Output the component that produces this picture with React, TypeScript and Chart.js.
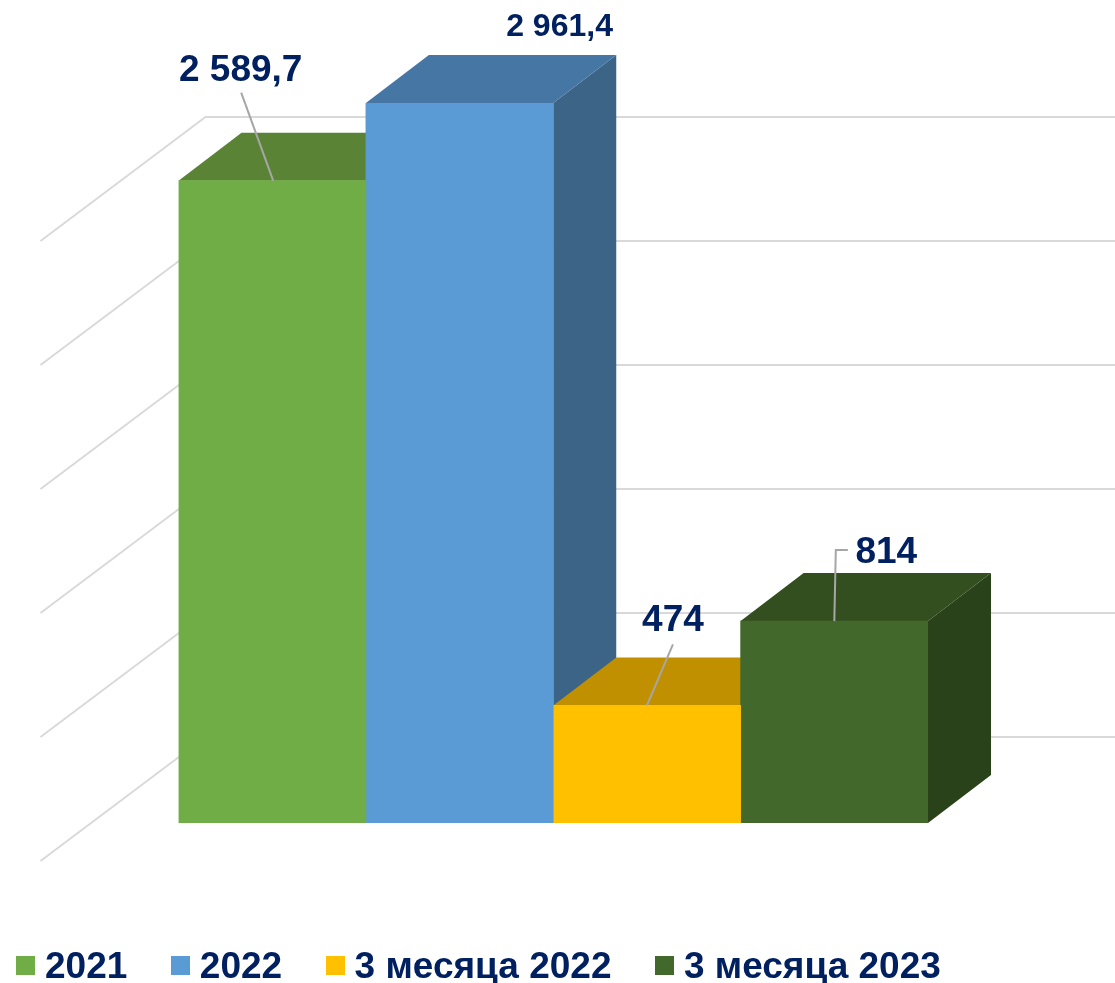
import React, { useEffect, useRef } from "react";
import { Chart, registerables } from "chart.js";

Chart.register(...registerables);

const categories = [""];
const seriesNames = ["2021", "2022", "3 месяца 2022", "3 месяца 2023"];
const value2021 = [2589.7];
const value2022 = [2961.4];
const value3m2022 = [474];
const value3m2023 = [814];
const valueLabels = ["2 589,7", "2 961,4", "474", "814"];
const gridTicks = [0, 500, 1000, 1500, 2000, 2500];
const axisMax = 2903;

const frontColors = ["#70AD47", "#5B9BD5", "#FFC000", "#43682B"];
const topColors = ["#5A8335", "#4676A3", "#C09000", "#334E1F"];
const sideColors = ["#4A6E2C", "#3B6487", "#A07A00", "#2A4219"];

const depthX = 63;
const depthY = -48;
const TEXT = "#002060";
const FONT = "Liberation Sans, Arial, sans-serif";

const labelPlacement = [
  { dx: -31.5, dy: -109.5, size: 37, leader: [[-31, -88], [1, 0]] },
  { dx: 100, dy: -75.5, size: 32, leader: [] },
  { dx: 26, dy: -85, size: 37, leader: [[26, -61], [0, 0]] },
  { dx: 52, dy: -68, size: 37, leader: [[13.5, -71], [1.5, -71], [0, 0]] },
];

const LEGEND_PADDING = 52;

function swatch(color: string) {
  const c = document.createElement("canvas");
  c.width = 19;
  c.height = 24;
  const g = c.getContext("2d")!;
  g.fillStyle = color;
  g.fillRect(0, 0, 19, 19);
  return c;
}

const wallPlugin = {
  id: "wall3d",
  beforeDatasetsDraw(chart: any) {
    const { ctx, chartArea, scales } = chart;
    const y = scales.y;
    ctx.save();
    ctx.strokeStyle = "#D9D9D9";
    ctx.lineWidth = 2;
    ctx.lineJoin = "round";
    gridTicks.forEach((v) => {
      const py = y.getPixelForValue(v);
      ctx.beginPath();
      ctx.moveTo(chartArea.left - 138, py + 38);
      ctx.lineTo(chartArea.left + 27, py - 86);
      ctx.lineTo(chart.width, py - 86);
      ctx.stroke();
    });
    ctx.restore();
  },
};

const bar3dPlugin = {
  id: "bar3d",
  beforeDatasetsDraw(chart: any) {
    const { ctx, chartArea } = chart;
    chart.data.datasets.forEach((_: any, i: number) => {
      const el = chart.getDatasetMeta(i).data[0];
      const { x, y, base, width } = el.getProps(["x", "y", "base", "width"], true);
      const l = x - width / 2;
      const r = x + width / 2;
      const t = Math.max(y, chartArea.top);
      ctx.save();
      ctx.fillStyle = sideColors[i];
      ctx.beginPath();
      ctx.moveTo(r, t);
      ctx.lineTo(r + depthX, t + depthY);
      ctx.lineTo(r + depthX, base + depthY);
      ctx.lineTo(r, base);
      ctx.closePath();
      ctx.fill();
      ctx.fillStyle = topColors[i];
      ctx.beginPath();
      ctx.moveTo(l, t);
      ctx.lineTo(l + depthX, t + depthY);
      ctx.lineTo(r + depthX, t + depthY);
      ctx.lineTo(r, t);
      ctx.closePath();
      ctx.fill();
      ctx.restore();
    });
  },
  afterDatasetsDraw(chart: any) {
    const { ctx, chartArea } = chart;
    chart.data.datasets.forEach((_: any, i: number) => {
      const el = chart.getDatasetMeta(i).data[0];
      const { x, y } = el.getProps(["x", "y"], true);
      const t = Math.max(y, chartArea.top);
      const p = labelPlacement[i];
      ctx.save();
      if (p.leader.length) {
        ctx.strokeStyle = "#A6A6A6";
        ctx.lineWidth = 2;
        ctx.beginPath();
        p.leader.forEach(([a, b], k) => {
          if (k === 0) ctx.moveTo(x + a, t + b);
          else ctx.lineTo(x + a, t + b);
        });
        ctx.stroke();
      }
      ctx.fillStyle = TEXT;
      ctx.font = `bold ${p.size}px ${FONT}`;
      ctx.textAlign = "center";
      ctx.textBaseline = "middle";
      ctx.fillText(valueLabels[i], x + p.dx, t + p.dy);
      ctx.restore();
    });
  },
};

const legendPlacePlugin = {
  id: "legendPlace",
  afterLayout(chart: any) {
    const lg = chart.legend;
    lg.left = 24.5 - LEGEND_PADDING;
    lg.right = 3000;
    lg.top = 968 - LEGEND_PADDING - 18.5;
  },
};

const hiddenAxis = {
  display: true,
  grid: { display: false },
  border: { display: false },
  ticks: { display: false },
};

export default function App() {
  const ref = useRef<HTMLCanvasElement>(null);

  useEffect(() => {
    const series = [value2021, value2022, value3m2022, value3m2023];
    const chart = new Chart(ref.current!, {
      type: "bar",
      data: {
        labels: categories,
        datasets: series.map((data, i) => ({
          label: seriesNames[i],
          data,
          backgroundColor: frontColors[i],
          borderWidth: 0,
          barPercentage: 1,
          categoryPercentage: 1,
        })),
      },
      options: {
        responsive: false,
        animation: false,
        events: [],
        layout: { padding: { top: 103, left: 0, right: 0, bottom: 0 } },
        scales: {
          x: {
            ...hiddenAxis,
            afterFit(axis: any) {
              axis.height = Math.max(0, 160 - (axis.chart.legend?.height ?? 0));
            },
          },
          y: {
            ...hiddenAxis,
            min: 0,
            max: axisMax,
            afterFit(axis: any) {
              axis.width = 178.5;
            },
          },
          yRight: {
            ...hiddenAxis,
            position: "right",
            afterFit(axis: any) {
              axis.width = 187;
            },
          },
        },
        plugins: {
          tooltip: { enabled: false },
          legend: {
            position: "bottom",
            align: "start",
            labels: {
              usePointStyle: true,
              pointStyleWidth: 2,
              padding: LEGEND_PADDING,
              color: TEXT,
              font: { family: FONT, size: 37, weight: "bold", lineHeight: 1 },
              generateLabels(c: any) {
                return Chart.defaults.plugins.legend.labels
                  .generateLabels(c)
                  .map((it: any, i: number) => ({
                    ...it,
                    pointStyle: swatch(frontColors[i]),
                  }));
              },
            },
          },
        },
      } as any,
      plugins: [wallPlugin, bar3dPlugin, legendPlacePlugin],
    });
    return () => chart.destroy();
  }, []);

  return (
    <canvas
      ref={ref}
      width={1115}
      height={983}
      style={{ position: "absolute", left: 0, top: 0, width: 1115, height: 983 }}
    />
  );
}
